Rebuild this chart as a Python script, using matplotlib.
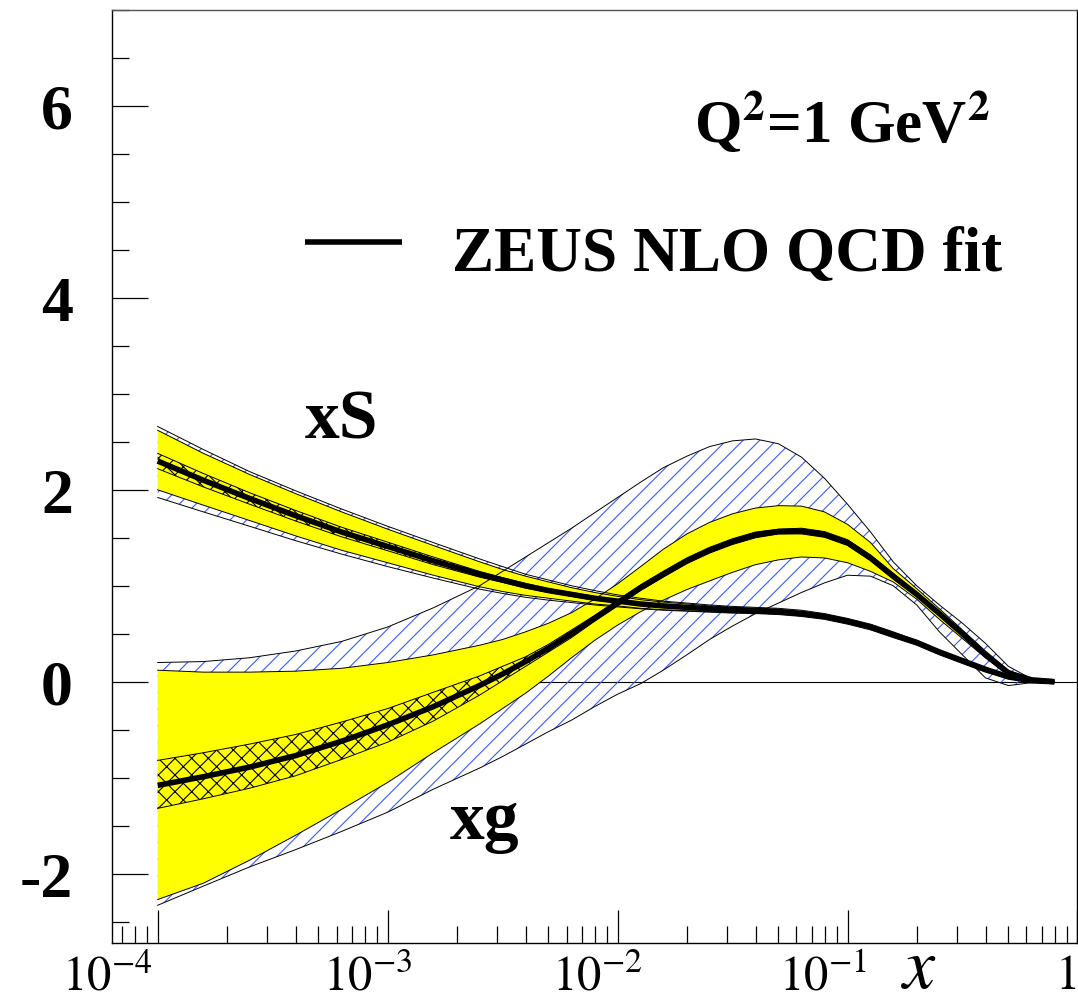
import numpy as np
import matplotlib
matplotlib.use('Agg')
import matplotlib.pyplot as plt
from matplotlib.ticker import LogLocator, NullFormatter, FixedLocator
from matplotlib.transforms import ScaledTranslation

plt.rcParams['font.family'] = ['Liberation Serif', 'DejaVu Serif']
plt.rcParams['mathtext.fontset'] = 'stix'
plt.rcParams['hatch.linewidth'] = 0.8

# x grid of the read-off points
x = [1.0e-4, 1.58e-4, 2.51e-4, 3.98e-4, 6.31e-4, 1.0e-3, 1.58e-3, 2.51e-3, 3.16e-3,
     3.98e-3, 5.01e-3, 6.31e-3, 7.94e-3, 1.0e-2, 1.26e-2, 1.58e-2, 2.0e-2, 2.51e-2,
     3.16e-2, 3.98e-2, 5.01e-2, 6.31e-2, 7.94e-2, 0.1, 0.126, 0.158, 0.2, 0.251,
     0.316, 0.398, 0.501, 0.631, 0.794]

# xS: central, total (yellow), other (blue hatch), experimental (cross-hatch)
xs_c = [2.30, 2.10, 1.91, 1.73, 1.56, 1.41, 1.26, 1.12, 1.06, 1.00, 0.95, 0.91, 0.87,
        0.84, 0.81, 0.79, 0.775, 0.76, 0.75, 0.74, 0.73, 0.71, 0.68, 0.63, 0.57,
        0.49, 0.41, 0.31, 0.22, 0.13, 0.05, 0.01, 0.0]
xs_y_hi = [2.62, 2.38, 2.16, 1.96, 1.77, 1.59, 1.42, 1.25, 1.17, 1.10, 1.04, 0.98, 0.93,
           0.89, 0.855, 0.83, 0.81, 0.79, 0.775, 0.765, 0.755, 0.735, 0.70, 0.65, 0.59,
           0.51, 0.42, 0.32, 0.23, 0.14, 0.06, 0.015, 0.0]
xs_y_lo = [2.00, 1.84, 1.68, 1.52, 1.37, 1.24, 1.11, 0.99, 0.94, 0.90, 0.87, 0.84, 0.81,
           0.79, 0.765, 0.75, 0.74, 0.73, 0.72, 0.715, 0.705, 0.685, 0.66, 0.61, 0.55,
           0.47, 0.39, 0.29, 0.20, 0.11, 0.04, 0.005, 0.0]
xs_h_hi = [2.66, 2.42, 2.19, 1.99, 1.80, 1.62, 1.45, 1.28, 1.20, 1.12, 1.06, 1.00, 0.95,
           0.905, 0.87, 0.84, 0.82, 0.80, 0.785, 0.775, 0.765, 0.745, 0.71, 0.66, 0.60,
           0.52, 0.43, 0.33, 0.24, 0.145, 0.065, 0.02, 0.0]
xs_h_lo = [1.92, 1.77, 1.62, 1.47, 1.33, 1.20, 1.08, 0.965, 0.92, 0.88, 0.85, 0.825, 0.80,
           0.78, 0.76, 0.745, 0.735, 0.725, 0.715, 0.71, 0.70, 0.68, 0.65, 0.60, 0.54,
           0.46, 0.38, 0.28, 0.19, 0.10, 0.03, -0.005, 0.0]
xs_e_hi = [2.38, 2.17, 1.97, 1.785, 1.61, 1.455, 1.30, 1.15, 1.085, 1.025, 0.97, 0.93, 0.89,
           0.855, 0.825, 0.80, 0.785, 0.77, 0.76, 0.75, 0.74, 0.72, 0.69, 0.64, 0.58,
           0.50, 0.415, 0.315, 0.225, 0.135, 0.055, 0.012, 0.0]
xs_e_lo = [2.22, 2.03, 1.85, 1.675, 1.51, 1.365, 1.22, 1.09, 1.035, 0.975, 0.93, 0.89, 0.85,
           0.825, 0.795, 0.78, 0.765, 0.75, 0.74, 0.73, 0.72, 0.70, 0.67, 0.62, 0.56,
           0.48, 0.405, 0.305, 0.215, 0.125, 0.045, 0.008, 0.0]

# xg
xg_c = [-1.08, -0.99, -0.89, -0.77, -0.62, -0.45, -0.26, -0.04, 0.08, 0.21, 0.35, 0.50, 0.66,
        0.82, 0.98, 1.12, 1.26, 1.37, 1.46, 1.53, 1.565, 1.57, 1.535, 1.45, 1.29,
        1.10, 0.91, 0.71, 0.50, 0.28, 0.09, 0.02, 0.0]
xg_y_hi = [0.12, 0.10, 0.10, 0.11, 0.14, 0.20, 0.28, 0.38, 0.44, 0.52, 0.61, 0.72, 0.86,
           1.02, 1.20, 1.38, 1.54, 1.66, 1.75, 1.81, 1.835, 1.83, 1.77, 1.64, 1.45,
           1.18, 0.97, 0.76, 0.54, 0.32, 0.12, 0.03, 0.0]
xg_y_lo = [-2.27, -2.10, -1.86, -1.60, -1.33, -1.05, -0.74, -0.44, -0.28, -0.12, 0.06, 0.25, 0.43,
           0.59, 0.73, 0.85, 0.96, 1.05, 1.14, 1.22, 1.27, 1.30, 1.29, 1.24, 1.15,
           1.04, 0.86, 0.65, 0.45, 0.25, 0.07, 0.01, 0.0]
xg_h_hi = [0.20, 0.21, 0.25, 0.32, 0.42, 0.57, 0.77, 1.00, 1.15, 1.30, 1.45, 1.60, 1.76,
           1.92, 2.08, 2.23, 2.35, 2.45, 2.51, 2.53, 2.48, 2.34, 2.12, 1.85, 1.56,
           1.25, 1.00, 0.80, 0.61, 0.40, 0.16, 0.03, 0.0]
xg_h_lo = [-2.33, -2.13, -1.93, -1.75, -1.56, -1.36, -1.12, -0.90, -0.78, -0.65, -0.52, -0.40, -0.26,
           -0.13, -0.02, 0.12, 0.28, 0.44, 0.58, 0.71, 0.82, 0.93, 1.03, 1.11, 1.10,
           1.00, 0.80, 0.52, 0.28, 0.04, -0.04, -0.01, 0.0]
xg_e_hi = [-0.82, -0.74, -0.65, -0.55, -0.42, -0.28, -0.11, 0.06, 0.16, 0.26, 0.39, 0.54, 0.69,
           0.85, 1.01, 1.15, 1.29, 1.40, 1.49, 1.56, 1.59, 1.60, 1.565, 1.48, 1.32,
           1.13, 0.93, 0.73, 0.52, 0.30, 0.10, 0.025, 0.0]
xg_e_lo = [-1.32, -1.22, -1.11, -0.98, -0.81, -0.63, -0.41, -0.14, 0.01, 0.16, 0.31, 0.46, 0.63,
           0.79, 0.95, 1.09, 1.23, 1.34, 1.43, 1.50, 1.54, 1.54, 1.505, 1.42, 1.26,
           1.07, 0.89, 0.69, 0.48, 0.26, 0.08, 0.015, 0.0]

x_major = [1e-4, 1e-3, 1e-2, 1e-1, 1.0]
x_labels = ['$10^{-4}$', '$10^{-3}$', '$10^{-2}$', '$10^{-1}$', '$1$']
x_label_shift = [-50, -20, -20, -24, -12]   # px, labels sit left of their ticks
y_major = [-2, 0, 2, 4, 6]
y_labels = ['-2', '0', '2', '4', '6']

YELLOW = '#ffff00'
BLUE = '#3a5cff'

fig = plt.figure(figsize=(10.78, 10.03), dpi=100)
ax = fig.add_axes([0.1036, 0.0591, 0.8959, 0.9299])
ax.set_xscale('log')
ax.set_xlim(10**-4.2, 1.0)
ax.set_ylim(-2.72, 7.0)

ax.hlines(0, x[0], 1.0, color='k', lw=0.8, zorder=1)

for lo, hi in [(xg_h_lo, xg_h_hi), (xs_h_lo, xs_h_hi)]:
    ax.fill_between(x, lo, hi, facecolor='none', edgecolor=BLUE, hatch='//', lw=0, zorder=2)
for lo, hi in [(xg_y_lo, xg_y_hi), (xs_y_lo, xs_y_hi)]:
    ax.fill_between(x, lo, hi, facecolor=YELLOW, edgecolor='none', lw=0, zorder=3)
for lo, hi in [(xg_e_lo, xg_e_hi), (xs_e_lo, xs_e_hi)]:
    ax.fill_between(x, lo, hi, facecolor='none', edgecolor='k', hatch='xx', lw=0, zorder=4)

for arr in [xg_h_lo, xg_h_hi, xs_h_lo, xs_h_hi, xg_y_lo, xg_y_hi, xs_y_lo, xs_y_hi,
            xg_e_lo, xg_e_hi, xs_e_lo, xs_e_hi]:
    ax.plot(x, arr, color='k', lw=0.7, zorder=5)

ax.plot(x, xs_c, color='k', lw=4, zorder=6, solid_capstyle='butt', solid_joinstyle='round')
ax.plot(x, xg_c, color='k', lw=4, zorder=6, solid_capstyle='butt', solid_joinstyle='round')

# axes / ticks
for s in ax.spines.values():
    s.set_linewidth(1.0)
ax.spines['top'].set_color('#555555')

ax.set_xticks(x_major)
ax.set_xticklabels(x_labels)
ax.xaxis.set_minor_locator(LogLocator(base=10, subs=range(2, 10)))
ax.xaxis.set_minor_formatter(NullFormatter())
ax.set_yticks(y_major)
ax.set_yticklabels(y_labels)
ax.yaxis.set_minor_locator(FixedLocator(np.arange(-2.5, 7.01, 0.5)))

ax.tick_params(axis='x', which='major', direction='in', length=24, width=0.9, pad=8,
               labelsize=35, top=False)
ax.tick_params(axis='x', which='minor', direction='in', length=12, width=0.9, top=False)
ax.tick_params(axis='y', which='major', direction='in', length=26, width=0.9, pad=28,
               labelsize=46, right=False)
ax.tick_params(axis='y', which='minor', direction='in', length=12.5, width=0.9, right=False)
for lab in ax.get_yticklabels():
    lab.set_fontweight('bold')
for lab, dx in zip(ax.get_xticklabels(), x_label_shift):
    lab.set_transform(lab.get_transform() + ScaledTranslation(dx / 100, 0, fig.dpi_scale_trans))

ax.text(0.205, -0.047, '$x$', transform=ax.get_xaxis_transform(), ha='center',
        va='baseline', fontsize=52)

# annotations
ax.text(0.603, 0.880, r'Q$^{\mathbf{2}}$=1 GeV$^{\mathbf{2}}$', transform=ax.transAxes,
        fontsize=44, fontweight='bold', va='center', ha='left')
ax.plot([0.200, 0.3006], [0.751, 0.751], color='k', lw=4, transform=ax.transAxes,
        solid_capstyle='butt')
ax.text(0.3524, 0.737, 'ZEUS NLO QCD fit', transform=ax.transAxes, fontsize=45.5,
        fontweight='bold', va='center', ha='left')
ax.text(0.2, 0.56, 'xS', transform=ax.transAxes, fontsize=50, fontweight='bold',
        va='center', ha='left')
ax.text(0.35, 0.13, 'xg', transform=ax.transAxes, fontsize=50, fontweight='bold',
        va='center', ha='left')

fig.savefig('out.png', dpi=100)
